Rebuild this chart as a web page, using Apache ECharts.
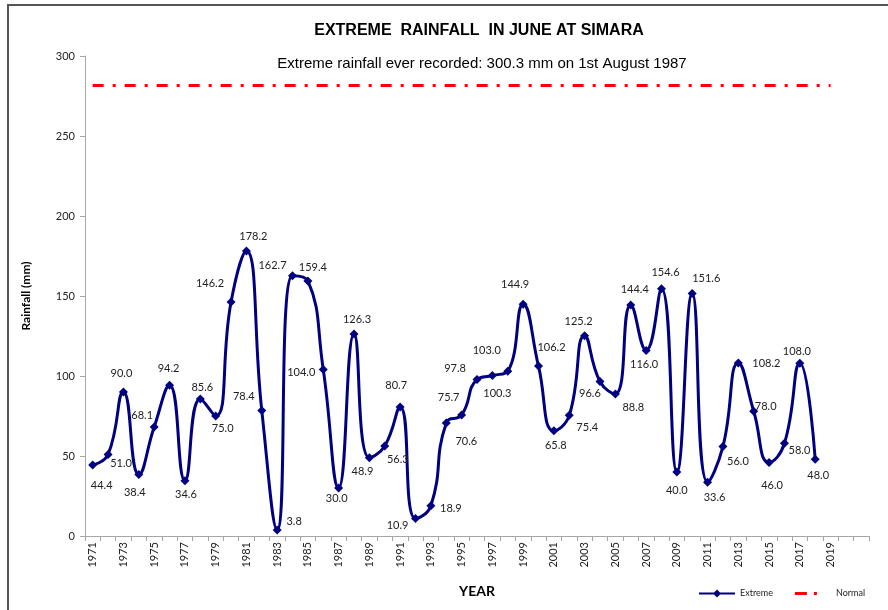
<!DOCTYPE html>
<html>
<head>
<meta charset="utf-8">
<style>
  html, body { margin: 0; padding: 0; background: #fff; }
  #chartcontainer { width: 888px; height: 610px; }
</style>
<script src="https://cdn.jsdelivr.net/npm/echarts@6/dist/echarts.min.js"></script>
</head>
<body>
<div id="chartcontainer"></div>
<script>
  // categories on the x axis (the axis runs past the data)
  const years = [
    '1971', '1972', '1973', '1974', '1975', '1976', '1977', '1978', '1979', '1980',
    '1981', '1982', '1983', '1984', '1985', '1986', '1987', '1988', '1989', '1990',
    '1991', '1992', '1993', '1994', '1995', '1996', '1997', '1998', '1999', '2000',
    '2001', '2002', '2003', '2004', '2005', '2006', '2007', '2008', '2009', '2010',
    '2011', '2012', '2013', '2014', '2015', '2016', '2017', '2018', '2019', '2020',
    '2021'
  ]
  // extreme June rainfall (mm), 1971 - 2018
  const extreme = [
    44.4, 51.0, 90.0, 38.4, 68.1, 94.2, 34.6, 85.6, 75.0, 146.2,
    178.2, 78.4, 3.8, 162.7, 159.4, 104.0, 30.0, 126.3, 48.9, 56.3,
    80.7, 10.9, 18.9, 70.6, 75.7, 97.8, 100.3, 103.0, 144.9, 106.2,
    65.8, 75.4, 125.2, 96.6, 88.8, 144.4, 116.0, 154.6, 40.0, 151.6,
    33.6, 56.0, 108.2, 78.0, 46.0, 58.0, 108.0, 48.0
  ]
  // normal line: start and end year with its value
  const normalYears = ['1971', '2019']
  const normalValues = [281.6, 281.6]

  // where each value label sits relative to its point (px)
  const labelOffsets = [
    [9, 20], [13, 9], [-2, -19], [-4, 18], [-12, -12], [-1, -17], [1, 14], [2, -12], [7, 12], [-21, -19],
    [7, -14], [-18, -14], [17, -8], [-20, -10], [5, -14], [-22, 3], [-2, 10], [3, -14], [-7, 14], [13, 14],
    [-4, -21], [-18, 7], [20, 3], [20, 18], [-13, -17], [-22, -11], [5, 18], [-21, -21], [-8, -20], [13, -19],
    [2, 15], [18, 12], [-6, -14], [-10, 12], [18, 14], [4, -16], [-2, 14], [4, -16], [0, 18], [14, -15],
    [7, 15], [15, 15], [28, 1], [12, -5], [3, 23], [15, 7], [-3, -12], [3, 16]
  ]

  const font = 'Lato, "Noto Sans", sans-serif'
  const chart = echarts.init(document.getElementById('chartcontainer'))

  chart.setOption({
    animation: false,
    backgroundColor: '#fff',
    title: [
      {
        text: 'EXTREME  RAINFALL  IN JUNE AT SIMARA',
        left: 474,
        top: 18,
        textAlign: 'center',
        textStyle: { fontFamily: '"Liberation Sans Narrow", "Liberation Sans", sans-serif', fontSize: 16, fontWeight: 'bold', color: '#000' }
      },
      {
        text: 'Extreme rainfall ever recorded: 300.3 mm on 1st August 1987',
        left: 477,
        top: 51,
        textAlign: 'center',
        textStyle: { fontFamily: '"Liberation Sans Narrow", "Liberation Sans", sans-serif', fontSize: 15, fontWeight: 'normal', color: '#000' }
      }
    ],
    legend: {
      left: 694,
      top: 584,
      itemWidth: 36,
      itemHeight: 8,
      itemGap: 22,
      textStyle: { fontFamily: font, fontSize: 9, color: '#222' },
      data: [
        { name: 'Extreme', icon: 'path://M0,3 L15,3 L18,0 L21,3 L36,3 L36,5 L21,5 L18,8 L15,5 L0,5 Z' },
        { name: 'Normal', icon: 'path://M0,0 L0,0 Z M0,2.5 L12,2.5 L12,5.5 L0,5.5 Z M19,2.5 L22,2.5 L22,5.5 L19,5.5 Z M36,8 L36,8 Z' }
      ]
    },
    grid: {
      left: 85,
      right: 19,
      top: 56,
      bottom: 74
    },
    xAxis: {
      type: 'category',
      data: years,
      boundaryGap: true,
      name: 'YEAR',
      nameLocation: 'middle',
      nameGap: 48,
      nameTextStyle: { fontFamily: font, fontSize: 14, fontWeight: 'bold', color: '#000' },
      axisLine: { lineStyle: { color: '#a6a6a6', width: 1 } },
      axisTick: { show: true, interval: 0, alignWithLabel: false, length: 5, lineStyle: { color: '#a6a6a6' } },
      axisLabel: {
        rotate: 90,
        interval: (idx) => idx % 2 === 0 && idx < 50,
        fontFamily: font,
        fontSize: 11,
        color: '#222',
        margin: 6
      }
    },
    yAxis: {
      type: 'value',
      min: 0,
      max: 300,
      interval: 50,
      name: 'Rainfall (mm)',
      nameLocation: 'middle',
      nameGap: 53,
      nameTextStyle: { fontFamily: font, fontSize: 12, fontWeight: 'bold', color: '#000' },
      splitLine: { show: false },
      axisLine: { show: true, lineStyle: { color: '#a6a6a6', width: 1 } },
      axisTick: { show: true, length: 5, lineStyle: { color: '#a6a6a6' } },
      axisLabel: { fontFamily: font, fontSize: 11, color: '#222', margin: 10 }
    },
    series: [
      {
        name: 'Extreme',
        type: 'line',
        smooth: 0.5,
        data: extreme,
        symbol: 'diamond',
        symbolSize: 9,
        itemStyle: { color: '#000080' },
        lineStyle: { color: '#000080', width: 3 },
        label: {
          show: true,
          position: 'inside',
          formatter: (p) => p.value.toFixed(1),
          fontFamily: font,
          fontSize: 11,
          color: '#222'
        },
        labelLayout: (params) => {
          const off = labelOffsets[params.dataIndex] || [0, 0]
          return { dx: off[0], dy: off[1], hideOverlap: false }
        },
        z: 3
      },
      {
        name: 'Normal',
        type: 'line',
        data: normalYears.map((y, i) => [y, normalValues[i]]),
        symbol: 'none',
        itemStyle: { color: '#ff0000' },
        lineStyle: { color: '#ff0000', width: 3, type: [11, 9, 3, 9] },
        z: 2
      }
    ],
    graphic: [
      {
        type: 'rect',
        shape: { x: 8, y: 5, width: 900, height: 700 },
        style: { fill: 'none', stroke: '#555', lineWidth: 2 },
        silent: true
      }
    ]
  })
</script>
</body>
</html>
